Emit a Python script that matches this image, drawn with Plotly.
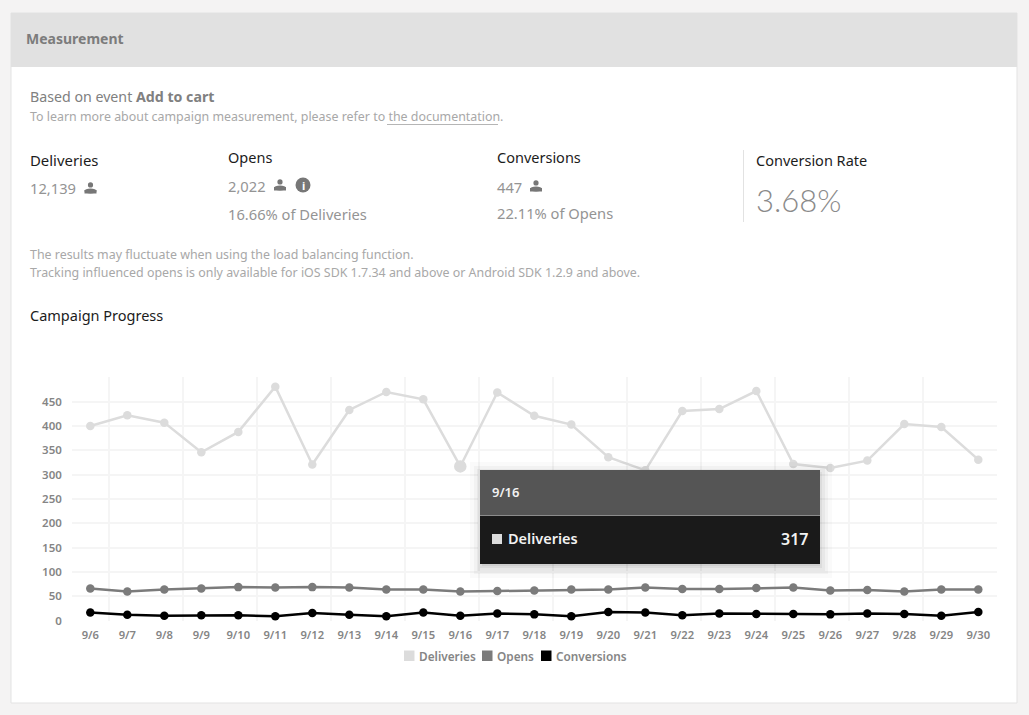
import plotly.graph_objects as go

W, H = 1029, 715
dates = ["9/6","9/7","9/8","9/9","9/10","9/11","9/12","9/13","9/14","9/15","9/16","9/17","9/18","9/19","9/20","9/21","9/22","9/23","9/24","9/25","9/26","9/27","9/28","9/29","9/30"]
deliveries = [400,422,407,346,388,481,321,433,470,455,317,469,421,403,336,309,431,435,472,322,314,329,404,398,331]
opens = [66,60,64,66,69,68,69,68,64,64,60,61,62,64,64,68,65,65,67,68,62,63,60,64,64]
conversions = [17,12,10,11,11,9,16,12,9,17,10,15,13,9,18,17,11,15,14,14,13,15,14,10,18]
y_ticks = [0,50,100,150,200,250,300,350,400,450]
series_names = ["Deliveries","Opens","Conversions"]
series_colors = ["#dcdcdc","#7b7b7b","#000000"]
hover_index = 10
FONT = "Noto Sans"

def px(x): return x / W
def py(y): return 1 - y / H

shapes, annots = [], []
def rect(x0, y0, x1, y1, fill, line=None, layer="above", opacity=1):
    shapes.append(dict(type="rect", xref="paper", yref="paper", x0=px(x0), x1=px(x1), y0=py(y0), y1=py(y1),
                       fillcolor=fill, opacity=opacity, layer=layer,
                       line=dict(color=line or fill, width=1 if line else 0)))
def hline(x0, x1, y, color, width=1, layer="above"):
    shapes.append(dict(type="line", xref="paper", yref="paper", x0=px(x0), x1=px(x1), y0=py(y), y1=py(y),
                       layer=layer, line=dict(color=color, width=width)))
def vline(x, y0, y1, color, width=1):
    shapes.append(dict(type="line", xref="paper", yref="paper", x0=px(x), x1=px(x), y0=py(y0), y1=py(y1),
                       layer="below", line=dict(color=color, width=width)))
def text(x, y, s, size=12, color="#8a8a8a", anchor="left", weight=None, family=FONT):
    f = dict(family=family, size=size, color=color)
    if weight: f["weight"] = weight
    annots.append(dict(xref="paper", yref="paper", x=px(x), y=py(y), text=s, showarrow=False,
                       xanchor=anchor, yanchor="middle", font=f, borderpad=0, borderwidth=0))
def person(cx, cy, color="#777777"):
    shapes.append(dict(type="circle", xref="paper", yref="paper", x0=px(cx-2.6), x1=px(cx+2.6),
                       y0=py(cy-5.8), y1=py(cy-0.4), fillcolor=color, line=dict(width=0), layer="above"))
    rect(cx-6, cy+2, cx+6, cy+5.5, color)
    shapes.append(dict(type="circle", xref="paper", yref="paper", x0=px(cx-6), x1=px(cx+6),
                       y0=py(cy+0.5), y1=py(cy+5.5), fillcolor=color, line=dict(width=0), layer="above"))

# page frame
rect(11, 13, 1017, 703, "#ffffff", line="#e3e3e3", layer="below")
rect(11, 13, 1017, 67, "#e1e1e1", layer="below")

BODY = 12.42
HEAD = 14.5
NUM = 14.7
text(26, 38.5, "<b>Measurement</b>", 14, "#7c7c7c")
text(30, 96.5, "Based on event <b>Add to cart</b>", 14.2, "#808080")
text(30, 116.5, "To learn more about campaign measurement, please refer to the documentation.", BODY, "#a8a8a8")
hline(387, 498, 124.5, "#b5b5b5")

text(30, 159.5, "Deliveries", 14.9, "#1c1c1c")
text(30, 188, "12,139", NUM, "#949494")
person(90.5, 188)
text(228, 157, "Opens", HEAD, "#1c1c1c")
text(228, 185.5, "2,022", NUM, "#949494")
person(280, 185)
shapes.append(dict(type="circle", xref="paper", yref="paper", x0=px(295.5), x1=px(310.5), y0=py(177.5), y1=py(192.5),
                   fillcolor="#777777", line=dict(width=0), layer="above"))
text(303, 185, "<b>i</b>", 11, "#ffffff", anchor="center")
text(228, 213.5, "16.66% of Deliveries", NUM, "#949494")
text(497, 157, "Conversions", HEAD, "#1c1c1c")
text(497, 186.5, "447", NUM, "#949494")
person(536, 186)
text(497, 212.5, "22.11% of Opens", NUM, "#949494")
vline(743.5, 150, 222, "#e2e2e2")
text(756, 159.5, "Conversion Rate", HEAD, "#1c1c1c")
text(756, 200, "3.68%", 31, "#8a8a8a", weight=300, family="Lato")
text(30, 254.5, "The results may fluctuate when using the load balancing function.", BODY, "#a8a8a8")
text(30, 272.5, "Tracking influenced opens is only available for iOS SDK 1.7.34 and above or Android SDK 1.2.9 and above.", BODY, "#a8a8a8")
text(30, 315.5, "Campaign Progress", HEAD, "#1c1c1c")

# legend
for sx, tx, name, col in zip([404, 482, 541], [418.5, 496.5, 556], series_names, series_colors):
    rect(sx, 650.5, sx + 10.5, 661, col)
    text(tx, 655.5, name, 11.8, "#858585", weight=600)

# tooltip with soft shadow
for grow, op in [(14, .02), (10, .03), (7, .04), (4, .05), (2, .06)]:
    rect(480 + 4 - grow, 470 + 6 - grow, 820 + grow - 2, 564 + grow, "#000000", opacity=op)
rect(480, 470, 820, 515.5, "#555555")
hline(480, 820, 515.5, "#8c8c8c")
rect(480, 516, 820, 564, "#1a1a1a")
rect(492, 534, 502, 544, "#dcdcdc")
text(492, 492, dates[hover_index], 13, "#f2f2f2", weight=600)
text(508, 538, series_names[0], 14.5, "#f2f2f2", weight=600)
text(808, 538.5, str(deliveries[hover_index]), 16, "#f2f2f2", anchor="right", weight=600)

xs = list(range(len(dates)))
fig = go.Figure()
for name, vals, col in zip(series_names, [deliveries, opens, conversions], series_colors):
    sizes = [8.5] * len(vals)
    if name == "Deliveries":
        sizes[hover_index] = 12.5
    fig.add_trace(go.Scatter(x=xs, y=vals, name=name, mode="lines+markers", cliponaxis=False,
                             line=dict(color=col, width=2.5),
                             marker=dict(color=col, size=sizes, opacity=1, line=dict(width=0)),
                             hovertemplate="%{y}<extra>" + name + "</extra>"))

fig.update_layout(
    width=W, height=H, autosize=False, margin=dict(l=0, r=0, t=0, b=0, pad=0, autoexpand=False),
    paper_bgcolor="#f4f3f3", plot_bgcolor="rgba(0,0,0,0)", showlegend=False,
    font=dict(family=FONT, color="#8a8a8a"),
    shapes=shapes, annotations=annots,
    xaxis=dict(domain=[px(71.8), px(996.8)], range=[-0.5, 24.5], tickmode="array", tickvals=xs, ticktext=dates,
               showgrid=False, zeroline=False, showline=False, ticks="", fixedrange=True,
               tickfont=dict(family=FONT, size=11.2, color="#858585", weight=600), ticklabelstandoff=6,
               minor=dict(tick0=0.5, dtick=2, showgrid=True, gridcolor="#f5f5f5", gridwidth=2, ticks="")),
    yaxis=dict(domain=[py(620.7), py(377.4)], range=[0, 500], tickmode="array", tickvals=y_ticks,
               gridcolor="#f5f5f5", gridwidth=2, zeroline=False, showline=False, ticks="", fixedrange=True,
               tickfont=dict(family=FONT, size=11.5, color="#858585", weight=600), ticklabelstandoff=9),
)
fig.write_html("out.html", config=dict(displayModeBar=False),
               post_script="document.body.style.margin='0';document.body.style.background='#f4f3f3';")
